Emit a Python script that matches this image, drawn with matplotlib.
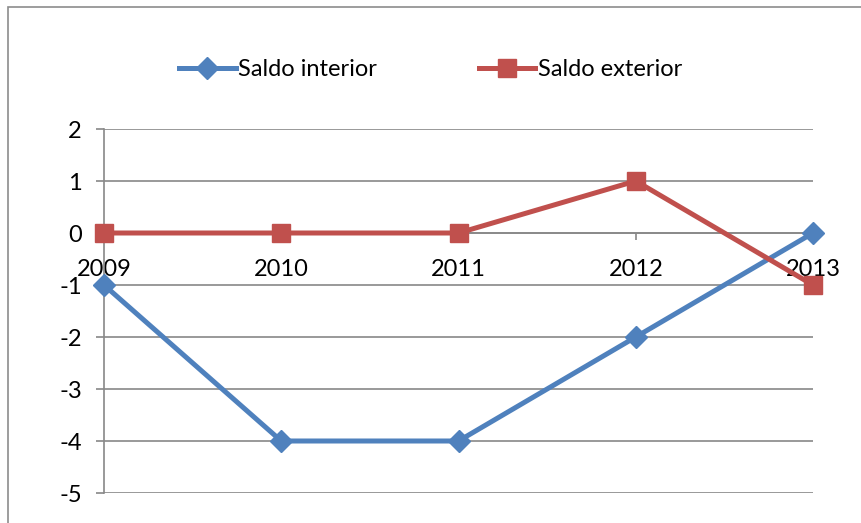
import matplotlib
matplotlib.use('Agg')
import matplotlib.pyplot as plt
from matplotlib.patches import Rectangle

years = ['2009', '2010', '2011', '2012', '2013']
saldo_interior = [-1, -4, -4, -2, 0]
saldo_exterior = [0, 0, 0, 1, -1]
yticks = [2, 1, 0, -1, -2, -3, -4, -5]

plt.rcParams['font.family'] = ['Lato', 'DejaVu Sans']
BLUE, RED, GRID = '#4F81BD', '#C0504D', '#888888'

fig = plt.figure(figsize=(8.61, 5.23), dpi=100)
# outer chart border (cut off at right/bottom like the reference)
fig.patches.append(Rectangle((8 / 861, -0.1), 1.0, 1 - 7 / 523 + 0.1, transform=fig.transFigure,
                             fill=False, ec='#8c8c8c', lw=1.2))
ax = fig.add_axes([104 / 861, 1 - 493 / 523, (813 - 104) / 861, (493 - 129) / 523])

x = list(range(len(years)))
ax.plot(x, saldo_interior, '-D', c=BLUE, lw=3.6, ms=11, label='Saldo interior', clip_on=False, zorder=3)
ax.plot(x, saldo_exterior, '-s', c=RED, lw=3.6, ms=13, label='Saldo exterior', clip_on=False, zorder=3)

ax.set_xlim(0, len(years) - 1)
ax.set_ylim(-5, 2)
ax.set_yticks(yticks)
ax.set_yticklabels([str(v) for v in yticks])
ax.set_xticks(x)
ax.set_xticklabels(years)
ax.yaxis.grid(True, color=GRID, lw=1.2)
ax.set_axisbelow(True)
for s in ['top', 'right']:
    ax.spines[s].set_visible(False)
ax.spines['left'].set_color(GRID)
ax.spines['left'].set_linewidth(1.2)
ax.spines['bottom'].set_position(('data', 0))
ax.spines['bottom'].set_color(GRID)
ax.spines['bottom'].set_linewidth(1.2)
ax.tick_params(axis='y', length=6, color=GRID, width=1.2, labelsize=17, pad=10)
ax.tick_params(axis='x', length=5, color=GRID, width=1.2, labelsize=17, pad=14)

ax.legend(loc='center', bbox_to_anchor=(0.5, 1 - 70 / 523), bbox_transform=fig.transFigure,
          ncol=2, frameon=False, fontsize=17, handlelength=2.4, handletextpad=0.1,
          columnspacing=4.3)

fig.savefig('out.png', dpi=100)
